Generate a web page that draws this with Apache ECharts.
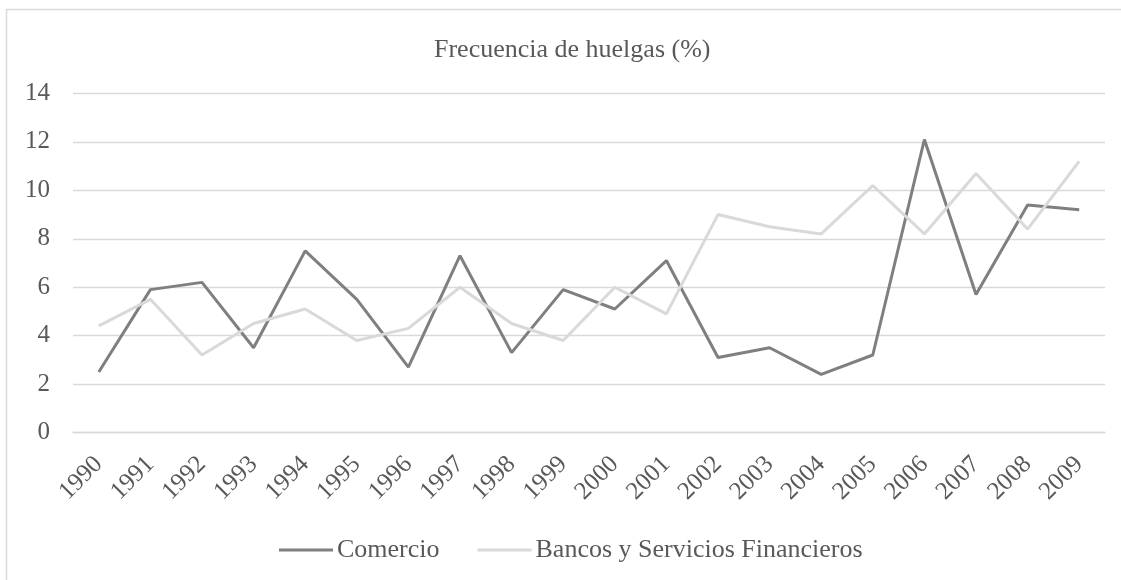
<!DOCTYPE html>
<html>
<head>
<meta charset="utf-8">
<script src="https://cdn.jsdelivr.net/npm/echarts@6/dist/echarts.min.js"></script>
<style>
  html, body { margin: 0; padding: 0; background: #fff; }
  #main { width: 1121px; height: 580px; }
</style>
</head>
<body>
<div id="main"></div>
<script>
// datos
const years = ['1990', '1991', '1992', '1993', '1994', '1995', '1996', '1997', '1998', '1999',
  '2000', '2001', '2002', '2003', '2004', '2005', '2006', '2007', '2008', '2009']
const comercio = [2.5, 5.9, 6.2, 3.5, 7.5, 5.5, 2.7, 7.3, 3.3, 5.9,
  5.1, 7.1, 3.1, 3.5, 2.4, 3.2, 12.1, 5.7, 9.4, 9.2]
const bancos = [4.4, 5.5, 3.2, 4.5, 5.1, 3.8, 4.3, 6.0, 4.5, 3.8,
  6.0, 4.9, 9.0, 8.5, 8.2, 10.2, 8.2, 10.7, 8.4, 11.2]

const FONT = '"Liberation Serif", "Times New Roman", serif'
const TXT = '#595959'
const GRID = '#d9d9d9'

const chart = echarts.init(document.getElementById('main'))
const option = {
  backgroundColor: '#fff',
  animation: false,
  title: {
    text: 'Frecuencia de huelgas (%)',
    left: 429,
    top: 32,
    textStyle: { fontFamily: FONT, fontSize: 26, fontWeight: 'normal', color: TXT }
  },
  // borde del area del grafico (cortado a la derecha y abajo)
  graphic: [{
    type: 'polyline',
    shape: { points: [[6.5, 700], [6.5, 9.5], [1400, 9.5]] },
    style: { fill: 'none', stroke: GRID, lineWidth: 1.5 },
    silent: true
  }],
  legend: {
    left: 274,
    top: 532,
    icon: 'rect',
    itemWidth: 54,
    itemHeight: 3,
    itemGap: 38,
    textStyle: { fontFamily: FONT, fontSize: 26, color: TXT, padding: [0, 0, 0, -1] },
    data: ['Comercio', 'Bancos y Servicios Financieros']
  },
  grid: { left: 73, right: 16, top: 93.5, bottom: 147.5, containLabel: false },
  xAxis: {
    type: 'category',
    data: years,
    boundaryGap: true,
    axisLine: { show: true, lineStyle: { color: GRID, width: 1.3 } },
    axisTick: { show: false },
    axisLabel: { rotate: 45, margin: 28, fontFamily: FONT, fontSize: 25, color: TXT, interval: 0 }
  },
  yAxis: {
    type: 'value',
    min: 0,
    max: 14,
    interval: 2,
    axisLine: { show: false },
    axisTick: { show: false },
    splitLine: { lineStyle: { color: GRID, width: 1.3 } },
    axisLabel: { margin: 23, fontFamily: FONT, fontSize: 25, color: TXT }
  },
  series: [
    {
      name: 'Comercio',
      type: 'line',
      data: comercio,
      showSymbol: false,
      color: '#7f7f7f',
      lineStyle: { color: '#7f7f7f', width: 3 }
    },
    {
      name: 'Bancos y Servicios Financieros',
      type: 'line',
      data: bancos,
      showSymbol: false,
      color: '#d9d9d9',
      lineStyle: { color: '#d9d9d9', width: 3 }
    }
  ]
}
chart.setOption(option)
</script>
</body>
</html>
